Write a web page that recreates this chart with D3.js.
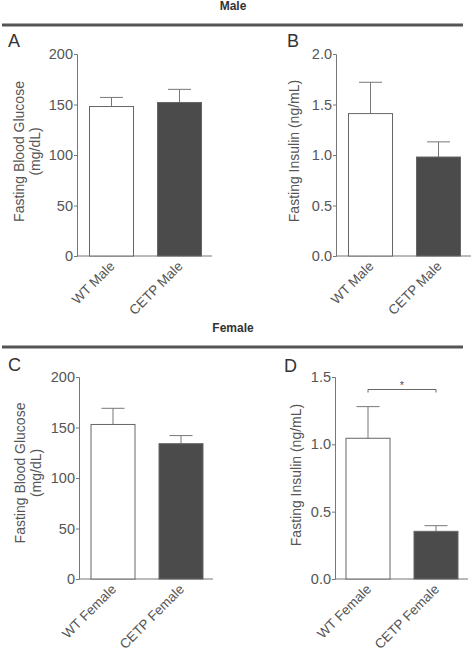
<!DOCTYPE html>
<html><head><meta charset="utf-8">
<script src="https://cdn.jsdelivr.net/npm/d3@7"></script>
<style>
body{margin:0;background:#fff;}
svg{display:block;font-family:"Liberation Sans",Arial,sans-serif;}
</style></head>
<body><svg id="c" width="472" height="652"></svg>
<script>
// ---- data ----
const maleCategories = ["WT Male", "CETP Male"];
const femaleCategories = ["WT Female", "CETP Female"];
const glucoseTicks = [0, 50, 100, 150, 200];
const insulinMaleTicks = [0, 0.5, 1.0, 1.5, 2.0];
const insulinFemaleTicks = [0, 0.5, 1.0, 1.5];
const maleGlucose = [148, 152];
const maleGlucoseErr = [9, 13];
const maleInsulin = [1.41, 0.98];
const maleInsulinErr = [0.31, 0.15];
const femaleGlucose = [153, 134];
const femaleGlucoseErr = [16, 8];
const femaleInsulin = [1.045, 0.354];
const femaleInsulinErr = [0.235, 0.042];
const barFills = ["#ffffff", "#4b4b4b"];

const svg = d3.select("#c");
const textCol = "#555";
const lineCol = "#777";

// section headers
function header(label, ty, ly) {
  svg.append("text").attr("x", 233).attr("y", ty).attr("text-anchor", "middle")
    .attr("font-size", 12).attr("font-weight", "bold").attr("fill", "#333").text(label);
  svg.append("line").attr("x1", 2).attr("x2", 463).attr("y1", ly).attr("y2", ly)
    .attr("stroke", "#555").attr("stroke-width", 3);
}
header("Male", 10, 25);
header("Female", 332, 347);

function panel(o) {
  const g = svg.append("g");
  const y = d3.scaleLinear().domain([0, o.ymax]).range([o.y0, o.yTop]);
  const x = d3.scaleBand().domain(o.cats).range([o.bx0, o.bx1]).paddingInner(23 / 68).paddingOuter(0);
  // y axis
  const ax = d3.axisLeft(y).tickValues(o.ticks).tickSize(3).tickPadding(1).tickFormat(o.fmt);
  const ag = g.append("g").attr("transform", `translate(${o.ax},0)`).call(ax);
  ag.select(".domain").attr("stroke", lineCol);
  ag.selectAll(".tick line").attr("stroke", lineCol);
  ag.selectAll(".tick text").attr("fill", textCol).attr("font-size", 14.5)
    .attr("font-family", "Liberation Sans, Arial, sans-serif");
  // x axis line
  g.append("line").attr("x1", o.ax).attr("x2", o.axEnd).attr("y1", o.y0).attr("y2", o.y0)
    .attr("stroke", lineCol);
  // error bars
  o.cats.forEach((c, i) => {
    const cx = x(c) + x.bandwidth() / 2;
    const top = y(o.vals[i] + o.errs[i]);
    g.append("line").attr("x1", cx).attr("x2", cx).attr("y1", y(o.vals[i])).attr("y2", top)
      .attr("stroke", lineCol);
    g.append("line").attr("x1", cx - 11.5).attr("x2", cx + 11.5).attr("y1", top).attr("y2", top)
      .attr("stroke", lineCol);
  });
  // bars
  g.selectAll("rect.bar").data(o.cats).enter().append("rect")
    .attr("x", d => x(d) + 0.5).attr("width", x.bandwidth() - 1)
    .attr("y", (d, i) => y(o.vals[i])).attr("height", (d, i) => o.y0 - y(o.vals[i]))
    .attr("fill", (d, i) => barFills[i]).attr("stroke", "#666").attr("stroke-width", 1);
  // x labels
  o.cats.forEach(c => {
    const cx = x(c) + x.bandwidth() / 2;
    g.append("text").attr("transform", `translate(${cx + 4},${o.y0 + 11}) rotate(-45)`)
      .attr("text-anchor", "end").attr("font-size", 13.5).attr("fill", textCol).text(c);
  });
  // y label
  o.ylab.forEach((t, k) => {
    g.append("text").attr("transform", `translate(${o.ylx[k]},${o.ylc}) rotate(-90)`)
      .attr("text-anchor", "middle").attr("font-size", 14).attr("fill", textCol).text(t);
  });
  // panel letter
  g.append("text").attr("x", o.lx).attr("y", o.ly).attr("font-size", 18).attr("fill", "#333").text(o.letter);
  return {g, x, y};
}

const f0 = d3.format(".0f"), f1 = d3.format(".1f");

panel({cats: maleCategories, vals: maleGlucose, errs: maleGlucoseErr, ymax: 200, ticks: glucoseTicks, fmt: f0,
  ax: 77, axEnd: 212, bx0: 89, bx1: 202, yTop: 54, y0: 256,
  ylab: ["Fasting Blood Glucose", "(mg/dL)"], ylx: [23.5, 39.5], ylc: 151.5, letter: "A", lx: 8, ly: 47});

panel({cats: maleCategories, vals: maleInsulin, errs: maleInsulinErr, ymax: 2.0, ticks: insulinMaleTicks, fmt: f1,
  ax: 336, axEnd: 471, bx0: 348, bx1: 461, yTop: 54, y0: 256,
  ylab: ["Fasting Insulin (ng/mL)"], ylx: [298.5], ylc: 151, letter: "B", lx: 287, ly: 47});

panel({cats: femaleCategories, vals: femaleGlucose, errs: femaleGlucoseErr, ymax: 200, ticks: glucoseTicks, fmt: f0,
  ax: 79, axEnd: 213, bx0: 90.5, bx1: 203.5, yTop: 377, y0: 579,
  ylab: ["Fasting Blood Glucose", "(mg/dL)"], ylx: [24.5, 40.5], ylc: 473, letter: "C", lx: 8, ly: 371});

const d = panel({cats: femaleCategories, vals: femaleInsulin, errs: femaleInsulinErr, ymax: 1.5, ticks: insulinFemaleTicks, fmt: f1,
  ax: 335, axEnd: 468, bx0: 345.5, bx1: 458.5, yTop: 377, y0: 579,
  ylab: ["Fasting Insulin (ng/mL)"], ylx: [300.5], ylc: 475, letter: "D", lx: 284, ly: 372});

// significance bracket
{
  const x1 = d.x(femaleCategories[0]) + d.x.bandwidth() / 2;
  const x2 = d.x(femaleCategories[1]) + d.x.bandwidth() / 2;
  const by = 389.5;
  d.g.append("path").attr("d", `M${x1},${by + 3}V${by}H${x2}V${by + 3}`)
    .attr("fill", "none").attr("stroke", "#666");
  d.g.append("text").attr("x", (x1 + x2) / 2).attr("y", by - 1).attr("text-anchor", "middle")
    .attr("font-size", 11).attr("fill", "#555").text("*");
}
</script></body></html>
